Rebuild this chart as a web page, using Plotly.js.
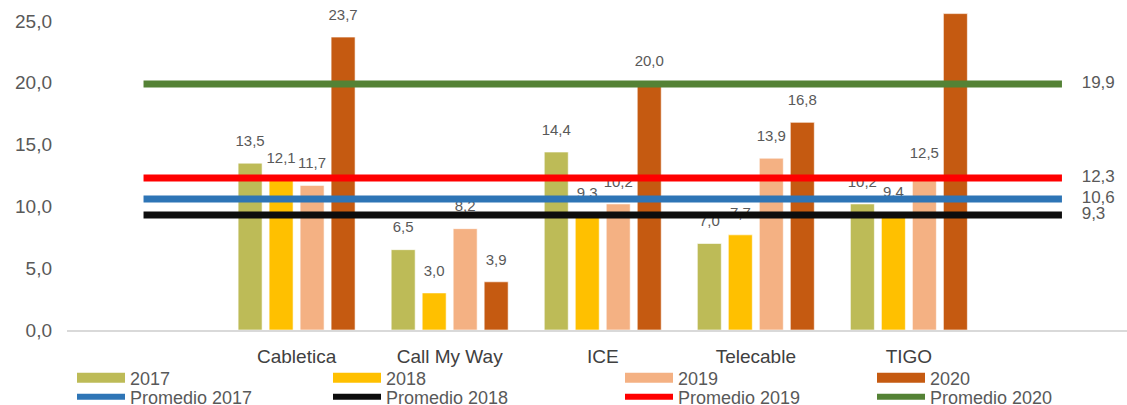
<!DOCTYPE html>
<html>
<head>
<meta charset="utf-8">
<script src="https://cdn.plot.ly/plotly-3.0.1.min.js"></script>
<style>
  html, body { margin: 0; padding: 0; background: #fff; }
  #chart { width: 1127px; height: 405px; }
</style>
</head>
<body>
<div id="chart"></div>
<script>
// ---- data ----
const categories = ['Cabletica', 'Call My Way', 'ICE', 'Telecable', 'TIGO'];
const years = ['2017', '2018', '2019', '2020'];
const v2017 = [13.5, 6.5, 14.4, 7.0, 10.2];
const v2018 = [12.1, 3.0, 9.3, 7.7, 9.4];
const v2019 = [11.7, 8.2, 10.2, 13.9, 12.5];
const v2020 = [23.7, 3.9, 20.0, 16.8, 25.6];
const promedios = [10.6, 9.3, 12.3, 19.9];
const yTicks = [0, 5, 10, 15, 20, 25];

// ---- styles ----
const barColors = ['#BDBB57', '#FFC000', '#F4B183', '#C55A11'];
const lineColors = ['#2E75B6', '#0D0D0D', '#FF0000', '#548235'];
const FONT = '"Liberation Sans", Arial, sans-serif';

// padded category axis (empty slot on each side, as in the original)
const axisCats = [' '].concat(categories).concat(['  ']);
const series = [v2017, v2018, v2019, v2020];
const fmt = v => v.toFixed(1).replace('.', ',');

const traces = [];
// bars
series.forEach((vals, i) => {
  traces.push({
    type: 'bar', x: categories, y: vals, name: years[i],
    marker: { color: barColors[i], line: { color: 'rgba(255,255,255,0.6)', width: 1 } },
    showlegend: false, hoverinfo: 'skip'
  });
});
// data labels (grouped scatter text, aligned with the bars)
series.forEach((vals, i) => {
  traces.push({
    type: 'scatter', mode: 'markers+text', x: categories, y: vals, name: years[i] + ' etiqueta',
    marker: { size: 20, color: 'rgba(0,0,0,0)', line: { width: 0 } },
    text: vals.map(fmt), textposition: 'top center', cliponaxis: false,
    textfont: { family: FONT, size: 15, color: '#595959' },
    showlegend: false, hoverinfo: 'skip'
  });
});
// average lines (on an overlaying axis so they are not grouped)
promedios.forEach((p, i) => {
  const ys = axisCats.map(() => p);
  traces.push({
    type: 'scatter', mode: 'lines+markers+text', x: axisCats, y: ys, xaxis: 'x2',
    offsetgroup: 'L', name: 'Promedio ' + years[i],
    line: { color: lineColors[i], width: 7 },
    marker: {
      size: axisCats.map((c, k) => k === axisCats.length - 1 ? 30 : 0),
      color: 'rgba(0,0,0,0)', line: { width: 0, color: 'rgba(0,0,0,0)' }
    },
    text: axisCats.map((c, k) => k === axisCats.length - 1 ? fmt(p) : ''),
    textposition: 'middle right', cliponaxis: false,
    textfont: { family: FONT, size: 17, color: '#595959' },
    showlegend: false, hoverinfo: 'skip'
  });
});
// legend entries: one single-item legend per cell (2 rows x 4 columns)
series.forEach((vals, i) => {
  traces.push({
    type: 'scatter', mode: 'lines', x: [null], y: [null], xaxis: 'x2', offsetgroup: 'L',
    name: years[i], line: { color: barColors[i], width: 10 },
    legend: i === 0 ? 'legend' : 'legend' + (i + 1), showlegend: true
  });
  traces.push({
    type: 'scatter', mode: 'lines', x: [null], y: [null], xaxis: 'x2', offsetgroup: 'L',
    name: 'Promedio ' + years[i], line: { color: lineColors[i], width: 6 },
    legend: 'legend' + (i + 5), showlegend: true
  });
});

const legendX = [72, 328, 620, 872];
const legendRowY = [378, 397];
const legendCell = (col, row) => ({
  orientation: 'v', xref: 'container', yref: 'container',
  x: legendX[col] / 1127, xanchor: 'left',
  y: 1 - legendRowY[row] / 405, yanchor: 'middle',
  bgcolor: 'rgba(0,0,0,0)', borderwidth: 0, itemwidth: 48,
  font: { family: FONT, size: 18, color: '#595959' }
});

const layout = {
  width: 1127, height: 405,
  margin: { l: 67, r: 0, t: 0, b: 75, autoexpand: false },
  paper_bgcolor: '#fff', plot_bgcolor: '#fff',
  separators: ',.',
  font: { family: FONT, color: '#595959' },
  barmode: 'group', bargap: 0.19, bargroupgap: 0.226,
  scattermode: 'group', scattergap: 0.19,
  xaxis: {
    type: 'category', categoryorder: 'array', categoryarray: axisCats,
    range: [-0.5, 6.425], showgrid: false, zeroline: false,
    showline: true, linecolor: '#D9D9D9', linewidth: 2,
    ticks: '', tickfont: { family: FONT, size: 19, color: '#404040' },
    ticklabelstandoff: 8, tickangle: 0
  },
  xaxis2: {
    type: 'category', categoryorder: 'array', categoryarray: axisCats,
    range: [-0.5, 6.425], overlaying: 'x', visible: false
  },
  yaxis: {
    range: [0, 26.7], tickvals: yTicks, tickformat: '.1f',
    showgrid: false, zeroline: false, showline: false, ticks: '',
    tickfont: { family: FONT, size: 19, color: '#595959' },
    ticklabelstandoff: 14
  },
  showlegend: true
};
for (let c = 0; c < 4; c++) {
  layout[c === 0 ? 'legend' : 'legend' + (c + 1)] = legendCell(c, 0);
  layout['legend' + (c + 5)] = legendCell(c, 1);
}

Plotly.newPlot('chart', traces, layout, { staticPlot: true, displayModeBar: false });
</script>
</body>
</html>
